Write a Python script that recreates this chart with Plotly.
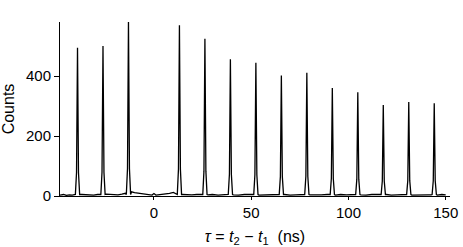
import plotly.graph_objects as go

# Peak centres (ns) and peak heights (counts)
peak_times = [-39.3, -26.2, -13.1, 13.1, 26.2, 39.3, 52.4, 65.5, 78.6, 91.7, 104.8, 117.9, 131.0, 144.1]
peak_counts = [494, 500, 582, 569, 524, 456, 444, 402, 411, 360, 346, 303, 313, 309]

# Background (between peaks) points
base_times = [-48.3, -46.5, -45.0, -43.5, -42.0,
              -37.0, -35.0, -33.0, -31.0, -29.0, -27.8,
              -24.6, -22.5, -20.5, -18.5, -16.5, -14.7,
              -11.5, -10.0, -8.0, -6.0, -4.0, -2.0, -1.0, 0.0, 1.0, 2.0, 4.0, 6.0, 8.0, 10.0, 11.5,
              14.7, 17.0, 19.5, 22.0, 24.6,
              27.8, 30.0, 33.0, 36.0, 37.7,
              40.9, 43.5, 46.5, 49.5, 50.8,
              54.0, 57.0, 60.0, 63.0, 63.9,
              67.1, 70.0, 73.0, 76.0, 77.0,
              80.2, 83.0, 86.0, 89.0, 90.1,
              93.3, 96.0, 99.0, 102.0, 103.2,
              106.4, 109.0, 112.0, 115.0, 116.3,
              119.5, 122.0, 125.0, 128.0, 129.4,
              132.6, 135.0, 138.0, 141.0, 142.5,
              145.7, 148.0, 150.0, 152.2]
base_counts = [3, 5, 2, 4, 3,
               5, 4, 5, 3, 5, 6,
               6, 5, 6, 4, 6, 9,
               14, 11, 9, 7, 5, 4, 3, 8, 3, 4, 5, 7, 9, 12,
               8, 5, 4, 4, 5,
               5, 4, 5, 3, 5,
               5, 4, 3, 5, 4,
               5, 3, 4, 5, 4,
               4, 5, 3, 4, 5,
               5, 4, 3, 4, 5,
               4, 3, 5, 4, 4,
               5, 4, 3, 5, 4,
               4, 5, 3, 4, 5,
               5, 3, 4, 5, 4,
               4, 3, 5, 4]

# Peak outline style (relative offsets in ns and fraction of height)
PEAK_OFFSETS = [-1.1, -0.5, 0.0, 0.5, 1.1]
PEAK_FRACTIONS = [0.0, 0.15, 1.0, 0.15, 0.0]

pts = list(zip(base_times, base_counts))
for t, h in zip(peak_times, peak_counts):
    for o, f in zip(PEAK_OFFSETS, PEAK_FRACTIONS):
        pts.append((t + o, 5 + f * (h - 5)))
pts.sort()
xs = [p[0] for p in pts]
ys = [p[1] for p in pts]

fig = go.Figure()
fig.add_trace(go.Scatter(x=xs, y=ys, mode="lines",
                         line=dict(color="black", width=1.3), hoverinfo="skip"))

tickfont = dict(family="Liberation Sans, Arial, sans-serif", size=15, color="black")
titlefont = dict(family="Liberation Sans, Arial, sans-serif", size=16, color="black")
fig.update_layout(
    width=463, height=247,
    margin=dict(l=60, r=13, t=22, b=51),
    paper_bgcolor="white", plot_bgcolor="white",
    showlegend=False,
    font=tickfont,
    xaxis=dict(range=[-48.3, 152.2], tickvals=[0, 50, 100, 150],
               showline=True, linecolor="black", linewidth=1,
               ticks="outside", ticklen=3, tickcolor="black",
               showgrid=False, zeroline=False, automargin=False,
               tickfont=tickfont,
               title=dict(text="<i>τ</i> = <i>t</i><sub>2</sub> − <i>t</i><sub>1</sub>  (ns)",
                          font=titlefont, standoff=14)),
    yaxis=dict(range=[0, 580], tickvals=[0, 200, 400],
               showline=True, linecolor="black", linewidth=1,
               ticks="outside", ticklen=5, tickcolor="black",
               showgrid=False, zeroline=False, automargin=False,
               tickfont=tickfont,
               title=dict(text="Counts", font=titlefont, standoff=10)),
)

fig.write_html("out.html", config={"displayModeBar": False},
               post_script="document.body.style.margin='0';document.body.style.overflow='hidden';")
